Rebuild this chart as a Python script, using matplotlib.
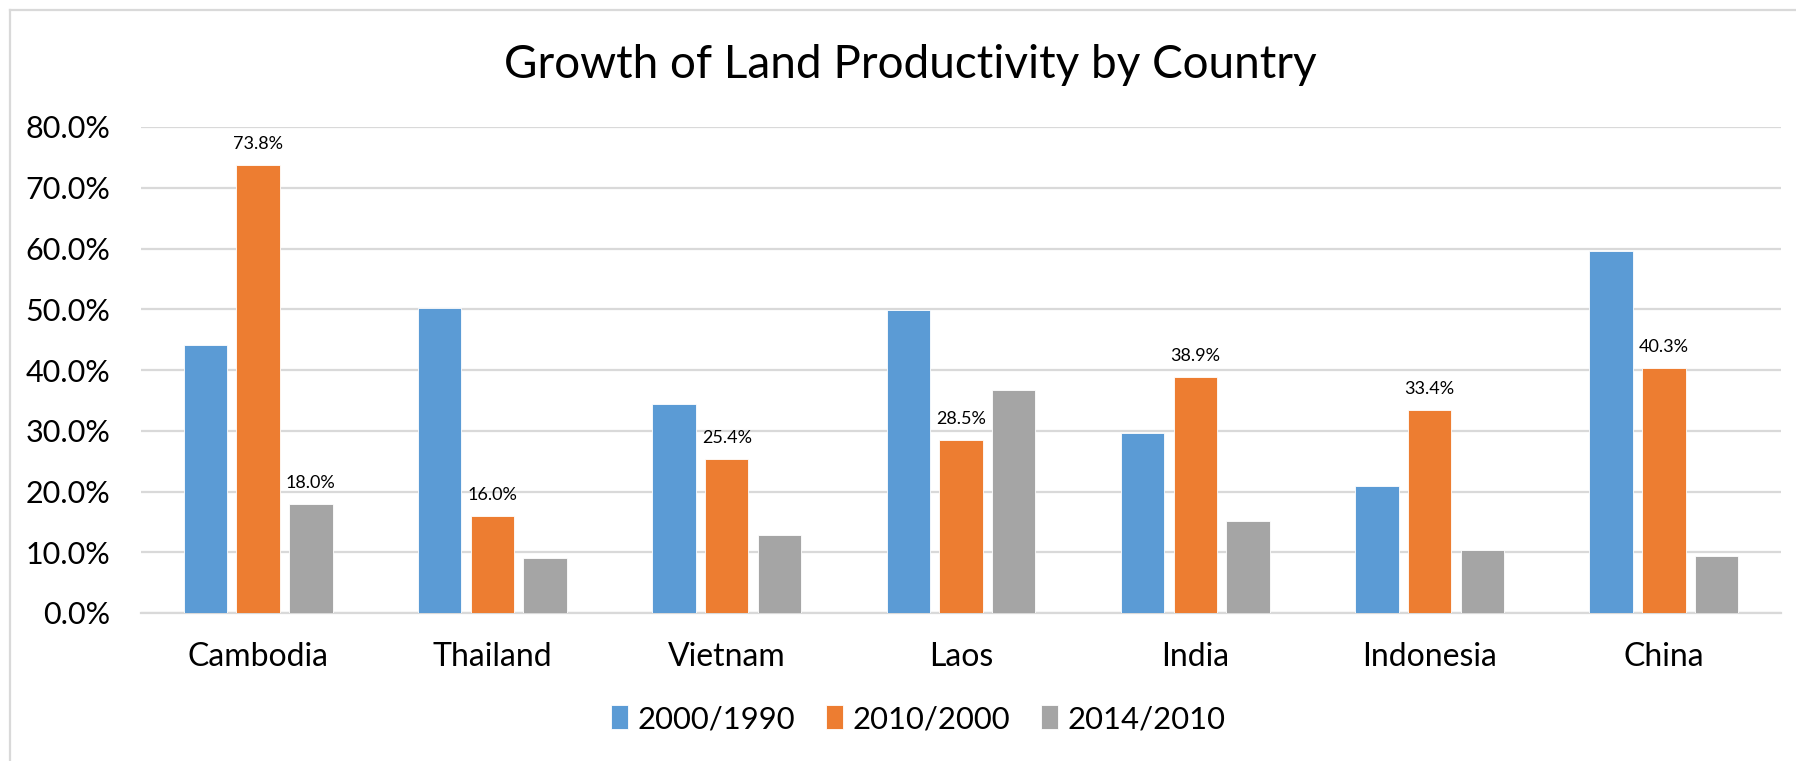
import numpy as np
import matplotlib
matplotlib.use('Agg')
import matplotlib.pyplot as plt
from matplotlib.lines import Line2D
from matplotlib.ticker import PercentFormatter

plt.rcParams['font.family'] = ['Lato', 'DejaVu Sans']

# Data (percent)
countries = ['Cambodia', 'Thailand', 'Vietnam', 'Laos', 'India', 'Indonesia', 'China']
series_names = ['2000/1990', '2010/2000', '2014/2010']
g_2000_1990 = [44.1, 50.2, 34.4, 49.8, 29.6, 20.9, 59.6]
g_2010_2000 = [73.8, 16.0, 25.4, 28.5, 38.9, 33.4, 40.3]
g_2014_2010 = [18.0, 9.1, 12.9, 36.7, 15.1, 10.3, 9.4]
colors = ['#5B9BD5', '#ED7D31', '#A5A5A5']

W, H = 1796, 761
fig = plt.figure(figsize=(W / 100, H / 100), dpi=100)
ax = fig.add_axes([141 / W, 1 - 613 / H, (1781 - 141) / W, (613 - 127) / H])

x = np.arange(len(countries))
width = 0.185
offset = 0.225
all_series = [g_2000_1990, g_2010_2000, g_2014_2010]
bars = []
for i, (vals, name, c) in enumerate(zip(all_series, series_names, colors)):
    b = ax.bar(x + (i - 1) * offset, vals, width, color=c, label=name,
               edgecolor='white', linewidth=0.6, zorder=3)
    bars.append(b)

# data labels: all orange bars, plus Cambodia's grey bar
def label(rect, val):
    ax.annotate(f'{val:.1f}%', (rect.get_x() + rect.get_width() / 2, rect.get_height()),
                xytext=(0, 15), textcoords='offset points', ha='center', va='center',
                fontsize=13, color='#000000')

for rect, v in zip(bars[1], g_2010_2000):
    label(rect, v)
label(bars[2][0], g_2014_2010[0])

ax.set_xlim(-0.5, len(countries) - 0.5)
ax.set_ylim(0, 80)
ax.set_yticks(np.arange(0, 81, 10))
ax.yaxis.set_major_formatter(PercentFormatter(decimals=1))
ax.set_xticks(x)
ax.set_xticklabels(countries)
ax.tick_params(axis='both', length=0, colors='#000000')
ax.tick_params(axis='y', pad=22, labelsize=22)
ax.tick_params(axis='x', pad=21, labelsize=23)
ax.grid(axis='y', color='#D9D9D9', linewidth=1.6, zorder=0)
for s in ['top', 'right', 'left']:
    ax.spines[s].set_visible(False)
ax.spines['bottom'].set_color('#D9D9D9')
ax.spines['bottom'].set_linewidth(1.6)

fig.text(910 / W, 1 - 65 / H, 'Growth of Land Productivity by Country',
         ha='center', va='center', fontsize=33, color='#000000')

fig.legend(handles=bars, labels=series_names, loc='center',
           bbox_to_anchor=(918 / W, 1 - 719 / H), ncol=3, frameon=False,
           fontsize=22.3, handlelength=0.55, handleheight=0.8, handletextpad=0.3,
           columnspacing=1.0)

# chart area border (only left and top edges are inside the crop)
fig.add_artist(Line2D([10 / W, 10 / W], [0, 1 - 10 / H], color='#D9D9D9', lw=1.6,
                      transform=fig.transFigure))
fig.add_artist(Line2D([10 / W, 1], [1 - 10 / H, 1 - 10 / H], color='#D9D9D9', lw=1.6,
                      transform=fig.transFigure))

fig.savefig('out.png', dpi=100, facecolor='white')
